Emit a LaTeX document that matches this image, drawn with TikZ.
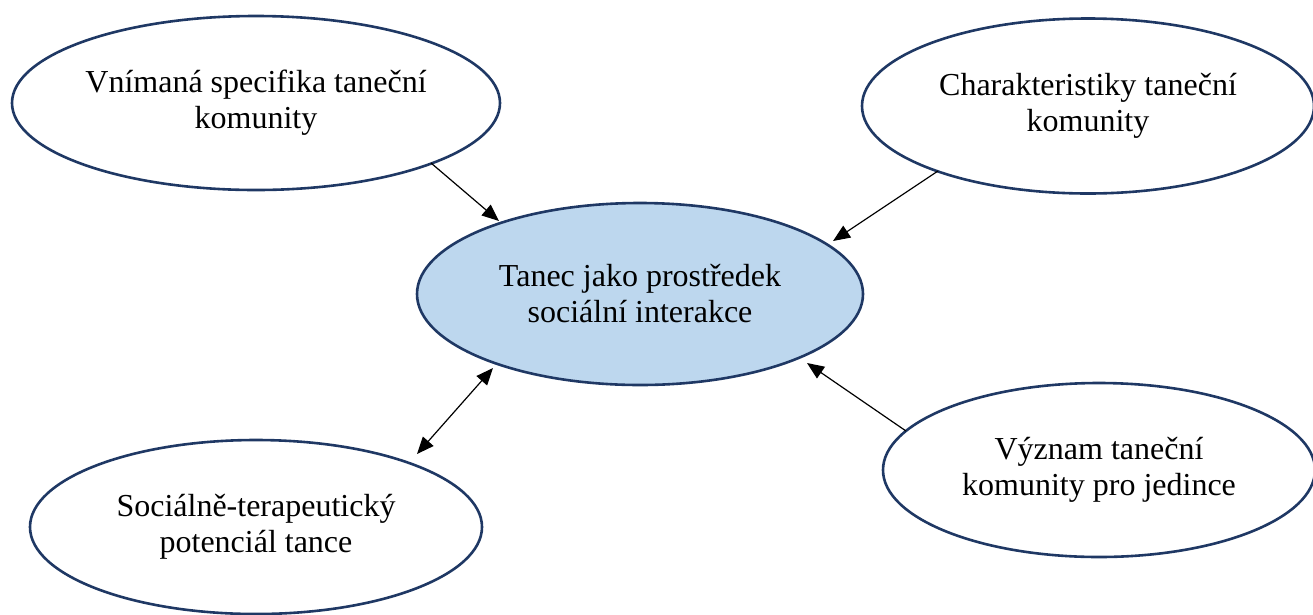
\documentclass[tikz,border=0pt]{standalone}
\usepackage{fontspec}
\setmainfont{Liberation Serif}
\usetikzlibrary{shapes.geometric,arrows.meta}
\definecolor{edgeblue}{RGB}{31,56,100}
\definecolor{centerfill}{RGB}{189,215,238}
\tikzset{
  bubble/.style={ellipse, draw=edgeblue, line width=2.6pt, inner sep=0pt,
    align=center, font=\fontsize{32}{36}\selectfont},
  link/.style={black, line width=1.2pt, -{Triangle[length=17pt,width=14pt]}},
  duallink/.style={black, line width=1.2pt, {Triangle[length=17pt,width=14pt]}-{Triangle[length=17pt,width=14pt]}}
}
\begin{document}
\begin{tikzpicture}[x=1pt,y=-1pt]
\useasboundingbox (0,0) rectangle (1313,614);
\node[bubble, minimum width=488pt, minimum height=174pt] (tl) at (256,103)
  {Vnímaná specifika taneční\\komunity};
\node[bubble, minimum width=452pt, minimum height=175pt] (tr) at (1088,106)
  {Charakteristiky taneční\\komunity};
\node[bubble, fill=centerfill, minimum width=446pt, minimum height=182pt] (c) at (640,294)
  {Tanec jako prostředek\\sociální interakce};
\node[bubble, minimum width=452pt, minimum height=174pt] (bl) at (256,527)
  {Sociálně-terapeutický\\potenciál tance};
\node[bubble, minimum width=432pt, minimum height=174pt] (br) at (1099,470)
  {Význam taneční\\komunity pro jedince};
\coordinate (a1s) at (431,163);
\coordinate (a1e) at (499,221);
\coordinate (a2s) at (938,171);
\coordinate (a2e) at (833,241);
\coordinate (a3s) at (417,454);
\coordinate (a3e) at (493,368);
\coordinate (a4s) at (906,431);
\coordinate (a4e) at (807,363);
\draw[link] (a1s) -- (a1e);
\draw[link] (a2s) -- (a2e);
\draw[duallink] (a3s) -- (a3e);
\draw[link] (a4s) -- (a4e);
\end{tikzpicture}
\end{document}
